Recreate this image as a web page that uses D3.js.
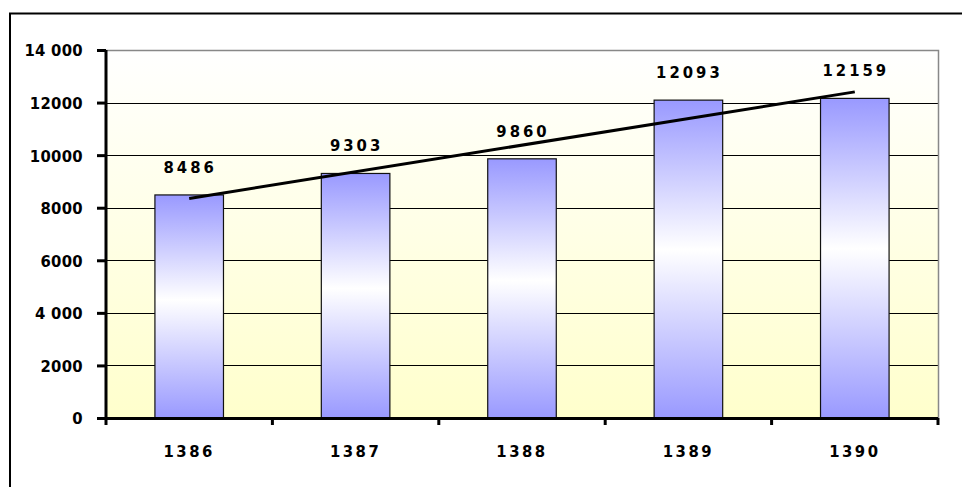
<!DOCTYPE html>
<html><head><meta charset="utf-8">
<script src="https://cdn.jsdelivr.net/npm/d3@7/dist/d3.min.js"></script>
<style>
body{margin:0;background:#fff;}
svg{display:block;}
text{font-family:"Liberation Sans Narrow","Arial Narrow","DejaVu Sans Condensed","Liberation Sans",Arial,sans-serif;font-weight:bold;fill:#000;}
</style></head>
<body>
<svg id="chart" width="962" height="487"></svg>
<script>
const categories = ["1386", "1387", "1388", "1389", "1390"];
const values = [8486, 9303, 9860, 12093, 12159];
const valueLabels = ["8486", "9303", "9860", "12093", "12159"];
const yTicks = [0, 2000, 4000, 6000, 8000, 10000, 12000, 14000];
const yTickLabels = ["0", "2000", "4 000", "6000", "8000", "10000", "12000", "14 000"];

const svg = d3.select("#chart");
const L = 106, R = 938, T = 50, B = 418;
const FS = 16.5;

const defs = svg.append("defs");
const bg = defs.append("linearGradient").attr("id","bg").attr("x1",0).attr("y1",0).attr("x2",0).attr("y2",1);
bg.append("stop").attr("offset","0%").attr("stop-color","#ffffff");
bg.append("stop").attr("offset","100%").attr("stop-color","#ffffcc");
const bar = defs.append("linearGradient").attr("id","bar").attr("x1",0).attr("y1",0).attr("x2",0).attr("y2",1);
bar.append("stop").attr("offset","0%").attr("stop-color","#9999ff");
bar.append("stop").attr("offset","47%").attr("stop-color","#ffffff");
bar.append("stop").attr("offset","100%").attr("stop-color","#9999ff");

// outer frame (only left & top visible)
svg.append("rect").attr("x",10).attr("y",13.5).attr("width",1200).attr("height",1200)
  .attr("fill","none").attr("stroke","#000").attr("stroke-width",2);

const x = d3.scaleBand().domain(categories).range([L, R]).paddingInner(0).paddingOuter(0);
const y = d3.scaleLinear().domain([0, 14000]).range([B, T]);

// plot background
svg.append("rect").attr("x",L).attr("y",T).attr("width",R-L).attr("height",B-T).attr("fill","url(#bg)");

// gridlines
svg.append("g").selectAll("line").data(yTicks.filter(d=>d>0 && d<14000)).join("line")
  .attr("x1",L).attr("x2",R).attr("y1",d=>Math.round(y(d))+0.5).attr("y2",d=>Math.round(y(d))+0.5)
  .attr("stroke","#000").attr("stroke-width",1);

// plot border top & right
svg.append("path").attr("d",`M${L},${T+0.5}H${R+0.5}V${B}`).attr("fill","none").attr("stroke","#888").attr("stroke-width",1.5);

// bars
const bw = x.bandwidth()*0.412;
svg.append("g").selectAll("rect").data(values).join("rect")
  .attr("x",(d,i)=>x(categories[i])+x.bandwidth()/2-bw/2)
  .attr("y",d=>y(d)).attr("width",bw).attr("height",d=>B-y(d))
  .attr("fill","url(#bar)").attr("stroke","#111").attr("stroke-width",1.2);

// trend line (linear regression of the series)
const n = values.length;
const xs = values.map((d,i)=>i+1);
const mx = d3.mean(xs), my = d3.mean(values);
const slope = d3.sum(xs.map((xv,i)=>(xv-mx)*(values[i]-my))) / d3.sum(xs.map(xv=>(xv-mx)*(xv-mx)));
const icpt = my - slope*mx;
const trend = [1, n].map(k=>[x(categories[k-1])+x.bandwidth()/2, y(icpt+slope*k)]);
svg.append("path").attr("d",d3.line()(trend)).attr("stroke","#000").attr("stroke-width",3).attr("fill","none");

// value labels
svg.append("g").selectAll("text").data(values).join("text")
  .attr("x",(d,i)=>x(categories[i])+x.bandwidth()/2+1)
  .attr("y",d=>y(d)-22)
  .attr("text-anchor","middle").attr("font-size",FS).attr("letter-spacing","3px")
  .text((d,i)=>valueLabels[i]);

// y axis
const yAxis = d3.axisLeft(y).tickValues(yTicks).tickSize(9).tickPadding(14)
  .tickFormat((d,i)=>yTickLabels[i]);
const gy = svg.append("g").attr("transform",`translate(${L},0)`).call(yAxis);
gy.select(".domain").attr("stroke","#000").attr("stroke-width",3).attr("d",`M0,${T}V${B+1.5}`);
gy.selectAll(".tick line").attr("stroke","#000").attr("stroke-width",3);
gy.selectAll(".tick text").attr("font-size",FS).attr("letter-spacing","0.3px").attr("dy","0.36em");

// x axis
const xAxis = d3.axisBottom(x).tickSize(0).tickPadding(27);
const gx = svg.append("g").attr("transform",`translate(0,${B})`).call(xAxis);
gx.select(".domain").attr("stroke","#000").attr("stroke-width",3).attr("d",`M${L},0.5H${R}`);
gx.selectAll(".tick text").attr("font-size",FS).attr("letter-spacing","2.5px").attr("dx","0px");
gx.append("g").selectAll("line").data(d3.range(n+1)).join("line")
  .attr("x1",i=>L+i*x.step()).attr("x2",i=>L+i*x.step())
  .attr("y1",0).attr("y2",7).attr("stroke","#000").attr("stroke-width",3);
svg.selectAll("g[font-family]").attr("font-family",null).attr("font-size",null);
</script>
</body></html>
